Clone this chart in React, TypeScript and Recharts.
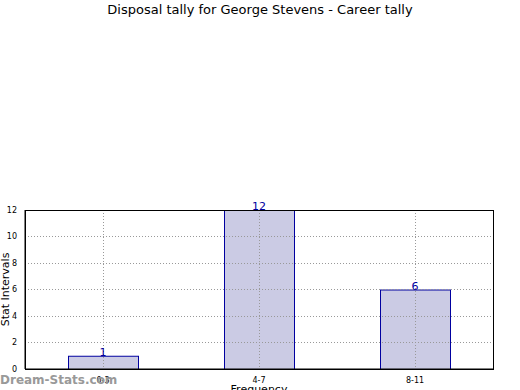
import { BarChart, Bar, XAxis, YAxis, ReferenceLine, LabelList } from "recharts";

const categories = ["0-3", "4-7", "8-11"];
const tallies = [1, 12, 6];
const yTicks = [0, 2, 4, 6, 8, 10, 12];

const data = categories.map((c, i) => ({ range: c, count: tallies[i] }));

const FONT = "DejaVu Sans, sans-serif";
const GRID = {
  stroke: "#999999",
  strokeDasharray: "1 2",
  strokeWidth: 1,
  shapeRendering: "crispEdges",
};

// bar rect plus the dotted vertical grid line through its centre
function BarWithGrid(props: any) {
  const { x, y, width, height, background } = props;
  const cx = Math.round(x + width / 2) + 0.5;
  const top = background ? background.y : y;
  const bottom = background ? background.y + background.height : y + height;
  return (
    <g>
      <rect
        x={x + 0.5}
        y={y + 0.5}
        width={width}
        height={height}
        fill="#cbcbe4"
        stroke="#0000a0"
        strokeWidth={1}
      />
      <line x1={cx} x2={cx} y1={top} y2={bottom} stroke="#999" strokeDasharray="1 2" />
    </g>
  );
}

export default function App() {
  return (
    <div
      style={{
        position: "absolute",
        left: 0,
        top: 0,
        width: 520,
        height: 390,
        background: "#fff",
        fontFamily: FONT,
        overflow: "hidden",
      }}
    >
      <div
        style={{
          position: "absolute",
          top: 2,
          width: 520,
          textAlign: "center",
          fontSize: 13,
          color: "#000",
        }}
      >
        Disposal tally for George Stevens - Career tally
      </div>

      <BarChart
        width={520}
        height={390}
        data={data}
        margin={{ top: 210, right: 27, bottom: 0, left: 0 }}
        barSize={70}
      >
        <XAxis
          dataKey="range"
          height={21}
          tick={{ fill: "#000", fontSize: 8, fontFamily: FONT }}
          tickLine={false}
          axisLine={{ stroke: "#000" }}
          label={{
            value: "Frequency",
            position: "insideBottom",
            offset: -3,
            fill: "#000",
            fontSize: 11,
            fontFamily: FONT,
          }}
        />
        <YAxis
          domain={[0, 12]}
          ticks={yTicks}
          width={25}
          tick={{ fill: "#000", fontSize: 8, fontFamily: FONT }}
          tickLine={false}
          axisLine={{ stroke: "#000" }}
          label={{
            value: "Stat Intervals",
            angle: -90,
            position: "insideLeft",
            offset: 5,
            fill: "#000",
            fontSize: 11,
            fontFamily: FONT,
            style: { textAnchor: "middle" },
          }}
        />
        <Bar
          dataKey="count"
          shape={BarWithGrid}
          background={{ fill: "none" }}
          isAnimationActive={false}
        >
          <LabelList
            dataKey="count"
            position="top"
            offset={0}
            fill="#0000a0"
            fontSize={11}
            fontFamily={FONT}
          />
        </Bar>

        {/* dotted horizontal grid drawn over the bars, like the original */}
        {yTicks.slice(1, -1).map((t) => (
          <ReferenceLine key={"y" + t} y={t} {...GRID} />
        ))}
      </BarChart>

      <div
        style={{
          position: "absolute",
          left: 25,
          top: 210,
          width: 467,
          height: 158,
          border: "1px solid #000",
          pointerEvents: "none",
        }}
      />

      <div
        style={{
          position: "absolute",
          left: 0,
          top: 373,
          fontSize: 12,
          fontWeight: "bold",
          color: "#999",
        }}
      >
        Dream-Stats.com
      </div>
    </div>
  );
}
